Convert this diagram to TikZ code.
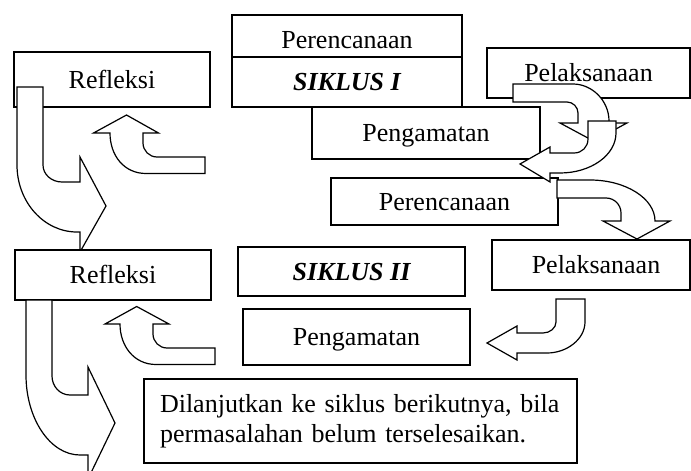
\documentclass[tikz,border=0pt]{standalone}
\usepackage{fontspec}
\setmainfont{Liberation Serif}
\begin{document}
\begin{tikzpicture}[x=1pt,y=-1pt,line width=1.2pt,line join=miter,
  box/.style={draw,fill=white,inner sep=0pt,font=\fontsize{26}{30}\selectfont,text height=17pt,text depth=0pt},
  notebox/.style={draw,fill=white,inner xsep=16pt,inner ysep=0pt,font=\fontsize{26}{30}\selectfont,text width=401pt,align=left},
  blk/.style={draw,fill=white,line join=miter}]
\useasboundingbox (0,0) rectangle (691,471);
\clip (0,0) rectangle (691,471);
% cycle I boxes
\node[box,minimum width=230pt,minimum height=42pt,text height=25pt] (plan1) at (347,36) {Perencanaan};
\node[box,minimum width=230pt,minimum height=50pt] (sik1) at (347,82) {\bfseries\itshape SIKLUS I};
\node[box,minimum width=196pt,minimum height=55pt] (ref1) at (112,79.5) {Refleksi};
\node[box,minimum width=203pt,minimum height=50pt] (pel1) at (588.5,73) {Pelaksanaan};
\node[box,minimum width=228pt,minimum height=52pt] (amat1) at (426,133) {Pengamatan};
% arrows cycle I
\draw[blk] (17,87) -- (43,87) -- (43,165) .. controls (43,174.4) and (51.5,182) .. (62,182) -- (80,182) -- (80,157) -- (106,206) -- (80,252) -- (80,232) -- (77,232) .. controls (44,232) and (17,202) .. (17,165) -- cycle;
\draw[blk] (205,157) -- (157,157) .. controls (149.3,157) and (143,150.7) .. (143,143) -- (143,133) -- (158.5,133) -- (126.5,115) -- (93.5,133) -- (110,133) .. controls (110,155.5) and (124,173.5) .. (146,173.5) -- (205,173.5) -- cycle;
\draw[blk] (513,84) -- (573,84) .. controls (592,84) and (609,100.6) .. (609,121) -- (609,123) -- (627,123) -- (593.5,141) -- (560,123) -- (578,123) -- (578,113) .. controls (578,107) and (573,102) .. (567,102) -- (513,102) -- cycle;
\node[box,minimum width=227pt,minimum height=47pt] (plan2) at (444.5,201.5) {Perencanaan};
\draw[blk] (588,121) -- (616,121) -- (616,133) .. controls (616,155) and (591,173) .. (560,173) -- (550,173) -- (550,182) -- (520,164) -- (550,147) -- (550,153) -- (574,153) .. controls (582,153) and (588,147) .. (588,139) -- cycle;
\draw[blk] (557,180) -- (590,180) .. controls (625.8,180) and (655,198.5) .. (655,221) -- (670,221) -- (637,239) -- (603,221) -- (621,221) -- (621,213) .. controls (621,204.7) and (614.3,198) .. (606,198) -- (557,198) -- cycle;
% cycle II boxes
\node[box,minimum width=198pt,minimum height=50pt] (pel2) at (591,265) {\hspace*{10pt}Pelaksanaan};
\node[box,minimum width=196pt,minimum height=50pt] (ref2) at (113,275) {Refleksi};
\node[box,minimum width=227pt,minimum height=49pt] (sik2) at (351.5,271.5) {\bfseries\itshape SIKLUS II};
\node[box,minimum width=227pt,minimum height=56pt] (amat2) at (356.5,337) {Pengamatan};
% arrows cycle II
\draw[blk] (26,300) -- (52,300) -- (52,376) .. controls (52,386.5) and (60,395) .. (70,395) -- (88,395) -- (88,367) -- (115,423) -- (88,479) -- (88,455) -- (80,455) .. controls (50.3,455) and (26,419) .. (26,375) -- cycle;
\draw[blk] (215,348) -- (167,348) .. controls (159.3,348) and (153,341.7) .. (153,334) -- (153,324) -- (169,324) -- (136.7,306.5) -- (105,324) -- (120,324) .. controls (120,346) and (134,364.5) .. (156,364.5) -- (215,364.5) -- cycle;
\draw[blk] (556,299) -- (585,299) -- (585,322) .. controls (585,339) and (567,353) .. (547,353) -- (517,353) -- (517,360) -- (487,343) -- (517,326) -- (517,333) -- (543,333) .. controls (550,333) and (556,328) .. (556,322) -- cycle;
% final note
\node[notebox,minimum width=433pt,minimum height=84pt] (note) at (360.5,421) {Dilanjutkan ke siklus berikutnya, bila\\permasalahan belum terselesaikan.};
\end{tikzpicture}
\end{document}
